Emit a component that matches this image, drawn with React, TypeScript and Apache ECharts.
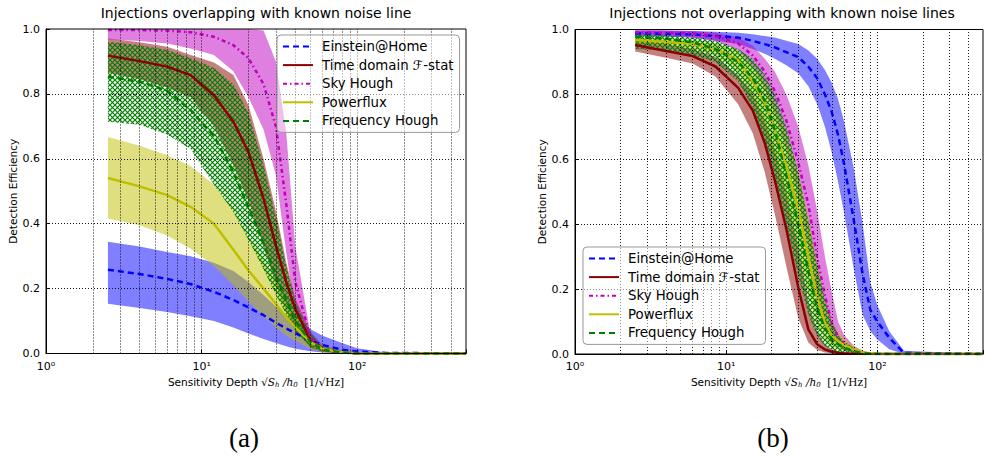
import React, { useEffect, useRef } from 'react';
import * as echarts from 'echarts';

// ---------------- Panel (a): injections overlapping with known noise line ----------------
const XL = [2.5, 4, 6, 8.5, 12, 16, 20, 25, 30, 35, 40, 50, 60, 80, 100, 150, 500];

const L_EAH = [0.258, 0.245, 0.23, 0.214, 0.19, 0.165, 0.142, 0.118, 0.095, 0.077, 0.063, 0.04, 0.026, 0.012, 0.006, 0.002, 0];
const L_EAH_HI = [0.344, 0.33, 0.313, 0.3, 0.28, 0.254, 0.22, 0.18, 0.145, 0.12, 0.1, 0.075, 0.055, 0.032, 0.016, 0.004, 0];
const L_EAH_LO = [0.153, 0.14, 0.128, 0.115, 0.1, 0.08, 0.062, 0.045, 0.032, 0.022, 0.015, 0.007, 0.003, 0.001, 0, 0, 0];

const L_TD = [0.918, 0.901, 0.884, 0.858, 0.796, 0.714, 0.621, 0.477, 0.333, 0.22, 0.137, 0.04, 0.014, 0.004, 0.001, 0, 0];
const L_TD_HI = [0.971, 0.959, 0.945, 0.92, 0.897, 0.858, 0.765, 0.6, 0.44, 0.28, 0.17, 0.066, 0.025, 0.008, 0.003, 0, 0];
const L_TD_LO = [0.865, 0.845, 0.82, 0.79, 0.7, 0.58, 0.47, 0.33, 0.21, 0.13, 0.075, 0.018, 0.005, 0.001, 0, 0, 0];

const L_SH = [0.997, 0.997, 0.995, 0.99, 0.976, 0.95, 0.91, 0.83, 0.7, 0.46, 0.22, 0.05, 0.012, 0.003, 0, 0, 0];
const L_SH_HI = [1.0, 1.0, 1.0, 1.0, 1.0, 1.0, 1.0, 0.995, 0.9, 0.68, 0.33, 0.06, 0.02, 0.005, 0.001, 0, 0];
const L_SH_LO = [0.968, 0.963, 0.955, 0.94, 0.92, 0.87, 0.79, 0.69, 0.55, 0.31, 0.13, 0.03, 0.008, 0.002, 0, 0, 0];

const L_PF = [0.541, 0.515, 0.488, 0.452, 0.4, 0.32, 0.256, 0.2, 0.153, 0.112, 0.081, 0.035, 0.014, 0.004, 0.001, 0, 0];
const L_PF_HI = [0.667, 0.64, 0.611, 0.578, 0.52, 0.445, 0.36, 0.29, 0.22, 0.16, 0.115, 0.055, 0.025, 0.006, 0.002, 0, 0];
const L_PF_LO = [0.416, 0.395, 0.364, 0.323, 0.27, 0.21, 0.16, 0.115, 0.08, 0.055, 0.038, 0.015, 0.005, 0.001, 0, 0, 0];

const L_FH = [0.853, 0.838, 0.81, 0.75, 0.67, 0.56, 0.45, 0.34, 0.24, 0.165, 0.1, 0.035, 0.012, 0.003, 0, 0, 0];
const L_FH_HI = [0.961, 0.95, 0.935, 0.91, 0.88, 0.83, 0.74, 0.58, 0.42, 0.27, 0.16, 0.06, 0.02, 0.006, 0.002, 0, 0];
const L_FH_LO = [0.714, 0.705, 0.675, 0.63, 0.52, 0.436, 0.35, 0.26, 0.18, 0.12, 0.07, 0.02, 0.006, 0.001, 0, 0, 0];

// ---------------- Panel (b): injections not overlapping with known noise lines ----------------
const XR = [2.5, 4, 6, 8.5, 12, 15, 18, 21, 25, 30, 35, 40, 45, 50, 55, 60, 70, 80, 90, 100, 120, 150, 500];

const R_EAH = [0.988, 0.987, 0.985, 0.98, 0.975, 0.965, 0.955, 0.945, 0.93, 0.915, 0.885, 0.85, 0.8, 0.745, 0.675, 0.59, 0.41, 0.245, 0.135, 0.1, 0.05, 0.003, 0];
const R_EAH_HI = [0.996, 0.996, 0.995, 0.993, 0.99, 0.985, 0.98, 0.975, 0.965, 0.955, 0.935, 0.91, 0.875, 0.835, 0.785, 0.72, 0.57, 0.4, 0.22, 0.15, 0.07, 0.01, 0];
const R_EAH_LO = [0.98, 0.978, 0.975, 0.965, 0.955, 0.94, 0.925, 0.91, 0.89, 0.865, 0.825, 0.77, 0.7, 0.62, 0.53, 0.44, 0.26, 0.12, 0.07, 0.045, 0.015, 0, 0];

const R_TD = [0.952, 0.934, 0.918, 0.886, 0.82, 0.75, 0.65, 0.535, 0.385, 0.205, 0.075, 0.03, 0.014, 0.007, 0.004, 0.002, 0.001, 0, 0, 0, 0, 0, 0];
const R_TD_HI = [0.97, 0.955, 0.94, 0.915, 0.86, 0.8, 0.72, 0.63, 0.5, 0.33, 0.16, 0.07, 0.03, 0.015, 0.008, 0.005, 0.002, 0, 0, 0, 0, 0, 0];
const R_TD_LO = [0.932, 0.913, 0.895, 0.855, 0.77, 0.68, 0.56, 0.43, 0.27, 0.11, 0.035, 0.012, 0.005, 0.002, 0.001, 0, 0, 0, 0, 0, 0, 0, 0];

const R_SH = [0.991, 0.99, 0.988, 0.98, 0.957, 0.92, 0.87, 0.81, 0.72, 0.59, 0.46, 0.296, 0.18, 0.095, 0.052, 0.03, 0.012, 0.004, 0.001, 0, 0, 0, 0];
const R_SH_HI = [1.0, 0.998, 0.995, 0.99, 0.975, 0.95, 0.91, 0.87, 0.8, 0.7, 0.58, 0.44, 0.3, 0.19, 0.1, 0.06, 0.025, 0.01, 0.003, 0.001, 0, 0, 0];
const R_SH_LO = [0.982, 0.98, 0.975, 0.965, 0.935, 0.885, 0.82, 0.74, 0.63, 0.48, 0.33, 0.18, 0.1, 0.05, 0.025, 0.012, 0.004, 0.001, 0, 0, 0, 0, 0];

const R_PF = [0.968, 0.962, 0.955, 0.94, 0.905, 0.84, 0.775, 0.69, 0.58, 0.445, 0.3, 0.175, 0.095, 0.055, 0.04, 0.028, 0.013, 0.005, 0.002, 0.001, 0, 0, 0];
const R_PF_HI = [0.975, 0.972, 0.968, 0.958, 0.935, 0.89, 0.84, 0.77, 0.68, 0.56, 0.42, 0.28, 0.17, 0.1, 0.07, 0.05, 0.025, 0.01, 0.004, 0.002, 0, 0, 0];
const R_PF_LO = [0.958, 0.95, 0.94, 0.92, 0.87, 0.79, 0.7, 0.6, 0.47, 0.32, 0.18, 0.09, 0.045, 0.025, 0.015, 0.01, 0.004, 0.001, 0, 0, 0, 0, 0];

const R_FH = [0.978, 0.972, 0.96, 0.94, 0.9, 0.85, 0.78, 0.69, 0.55, 0.4, 0.255, 0.14, 0.08, 0.045, 0.03, 0.02, 0.008, 0.003, 0.001, 0, 0, 0, 0];
const R_FH_HI = [0.985, 0.982, 0.975, 0.965, 0.94, 0.91, 0.86, 0.8, 0.7, 0.56, 0.41, 0.27, 0.17, 0.1, 0.06, 0.04, 0.018, 0.007, 0.002, 0.001, 0, 0, 0];
const R_FH_LO = [0.94, 0.935, 0.92, 0.9, 0.84, 0.76, 0.66, 0.55, 0.4, 0.24, 0.12, 0.055, 0.025, 0.012, 0.006, 0.003, 0.001, 0, 0, 0, 0, 0, 0];

// ---------------- labels / ticks ----------------
const NAMES = ['Einstein@Home', 'Time domain ℱ-stat', 'Sky Hough', 'Powerflux', 'Frequency Hough'];
const TITLES = ['Injections overlapping with known noise line', 'Injections not overlapping with known noise lines'];
const PANEL_LABELS = ['(a)', '(b)'];
const Y_GRID = [0.2, 0.4, 0.6, 0.8];
const X_GRID = [2, 3, 4, 5, 6, 7, 8, 9, 10, 20, 30, 40, 50, 60, 70, 80, 90, 100, 200, 300, 400];
const SUP = ['⁰', '¹', '²', '³'];

const C = {
  eah: '#0000ff',
  td: '#8b0000',
  sh: '#bf00bf',
  pf: '#bfbf00',
  fh: '#008000',
};

function pairs(xs: number[], ys: number[]) {
  return xs.map((x, i) => [x, ys[i]]);
}

function makeHatch() {
  const s = 5;
  const c = document.createElement('canvas');
  c.width = s;
  c.height = s;
  const ctx = c.getContext('2d')!;
  ctx.strokeStyle = 'rgba(0,128,0,1)';
  ctx.lineWidth = 1.2;
  ctx.beginPath();
  ctx.moveTo(-1, -1);
  ctx.lineTo(s + 1, s + 1);
  ctx.moveTo(-1, s + 1);
  ctx.lineTo(s + 1, -1);
  ctx.stroke();
  return c;
}

function band(idx: number, xs: number[], hi: number[], lo: number[], fill: any) {
  return {
    type: 'custom',
    xAxisIndex: idx,
    yAxisIndex: idx,
    silent: true,
    z: 2,
    data: xs.map((x, i) => [x, hi[i], lo[i]]),
    encode: { x: 0, y: [1, 2] },
    renderItem: (params: any, api: any) => {
      if (params.dataIndex !== 0) return null;
      const pts: number[][] = [];
      for (let i = 0; i < xs.length; i++) pts.push(api.coord([xs[i], hi[i]]));
      for (let i = xs.length - 1; i >= 0; i--) pts.push(api.coord([xs[i], lo[i]]));
      return { type: 'polygon', shape: { points: pts }, style: { fill, stroke: null } };
    },
  };
}

function line(idx: number, name: string, xs: number[], ys: number[], color: string, type: any) {
  return {
    type: 'line',
    name,
    xAxisIndex: idx,
    yAxisIndex: idx,
    data: pairs(xs, ys),
    symbol: 'none',
    showSymbol: false,
    silent: true,
    z: 4,
    lineStyle: { color, width: 2.5, type, cap: 'butt' },
    itemStyle: { color },
  };
}

function gridLines(idx: number) {
  return {
    type: 'line',
    xAxisIndex: idx,
    yAxisIndex: idx,
    data: [],
    silent: true,
    z: 3,
    symbol: 'none',
    markLine: {
      silent: true,
      symbol: ['none', 'none'],
      label: { show: false },
      emphasis: { disabled: true },
      animation: false,
      lineStyle: { color: '#000', width: 1, type: [1, 2], opacity: 0.9 },
      data: [...X_GRID.map((v) => ({ xAxis: v })), ...Y_GRID.map((v) => ({ yAxis: v }))],
    },
  };
}

export default function App() {
  const ref = useRef<HTMLDivElement>(null);
  useEffect(() => {
    if (!ref.current) return;
    const chart = echarts.init(ref.current, undefined, { renderer: 'svg' });
    const hatch = { image: makeHatch(), repeat: 'repeat', imageWidth: 5, imageHeight: 5 };
    const font = 'DejaVu Sans';

    const grids = [
      { left: 46, top: 29, width: 420, height: 324.5 },
      { left: 575, top: 29.5, width: 410, height: 324.5 },
    ];

    const xAxes = [0, 1].map((i) => ({
      type: 'log',
      logBase: 10,
      gridIndex: i,
      min: 1,
      max: 500,
      name: '{t|Sensitivity Depth }{m|√S}{s|h}{m| /h}{s|0}{t|  }{r|[1/√Hz]}',
      nameLocation: 'middle',
      nameGap: 21,
      nameTextStyle: {
        color: '#000',
        fontFamily: font,
        fontSize: 10.5,
        rich: {
          t: { fontFamily: font, fontSize: 10.5, color: '#000' },
          m: { fontFamily: 'DejaVu Serif', fontStyle: 'italic', fontSize: 10.5, color: '#000' },
          s: { fontFamily: 'DejaVu Serif', fontStyle: 'italic', fontSize: 7, color: '#000', padding: [6, 0, 0, 0] },
          r: { fontFamily: 'DejaVu Serif', fontSize: 10.5, color: '#000' },
        },
      },
      axisLine: { show: true, lineStyle: { color: '#000', width: 1 } },
      axisTick: { show: true, inside: true, length: 4, lineStyle: { color: '#000' } },
      splitLine: { show: false },
      axisLabel: {
        color: '#000',
        fontFamily: font,
        fontSize: 11,
        margin: 7,
        formatter: (v: number) => {
          const e = Math.log10(v);
          if (Math.abs(e - Math.round(e)) > 1e-6) return '';
          return '10' + SUP[Math.round(e)];
        },
      },
    }));

    const yAxes = [0, 1].map((i) => ({
      type: 'value',
      gridIndex: i,
      min: 0,
      max: 1,
      interval: 0.2,
      name: 'Detection Efficiency',
      nameLocation: 'middle',
      nameGap: 27,
      nameTextStyle: { color: '#000', fontFamily: font, fontSize: 10.5 },
      axisLine: { show: true, lineStyle: { color: '#000', width: 1 } },
      axisTick: { show: true, inside: true, length: 4, lineStyle: { color: '#000' } },
      splitLine: { show: false },
      axisLabel: {
        color: '#000',
        fontFamily: font,
        fontSize: 11,
        margin: 6,
        formatter: (v: number) => v.toFixed(1),
      },
    }));

    const legendCommon = {
      data: NAMES,
      orient: 'vertical',
      itemWidth: 30,
      itemHeight: 14,
      itemGap: 5.6,
      padding: [5, 6, 5, 5],
      backgroundColor: 'rgba(255,255,255,0.5)',
      borderColor: '#999',
      borderWidth: 1,
      borderRadius: 4,
      selectedMode: false,
      itemStyle: { opacity: 0 },
      textStyle: { color: '#000', fontFamily: font, fontSize: 13.3, padding: [0, 0, 0, 4] },
      z: 6,
    };

    const series: any[] = [
      band(0, XL, L_EAH_HI, L_EAH_LO, 'rgba(0,0,255,0.5)'),
      band(0, XL, L_TD_HI, L_TD_LO, 'rgba(139,0,0,0.5)'),
      band(0, XL, L_SH_HI, L_SH_LO, 'rgba(191,0,191,0.5)'),
      band(0, XL, L_PF_HI, L_PF_LO, 'rgba(191,191,0,0.5)'),
      band(0, XL, L_FH_HI, L_FH_LO, hatch),
      gridLines(0),
      line(0, NAMES[0], XL, L_EAH, C.eah, [6, 4]),
      line(0, NAMES[1], XL, L_TD, C.td, 'solid'),
      line(0, NAMES[2], XL, L_SH, C.sh, [4, 3, 1.5, 3]),
      line(0, NAMES[3], XL, L_PF, C.pf, 'solid'),
      line(0, NAMES[4], XL, L_FH, C.fh, [6, 4]),

      band(1, XR, R_EAH_HI, R_EAH_LO, 'rgba(0,0,255,0.5)'),
      band(1, XR, R_TD_HI, R_TD_LO, 'rgba(139,0,0,0.5)'),
      band(1, XR, R_SH_HI, R_SH_LO, 'rgba(191,0,191,0.5)'),
      band(1, XR, R_PF_HI, R_PF_LO, 'rgba(191,191,0,0.5)'),
      band(1, XR, R_FH_HI, R_FH_LO, hatch),
      gridLines(1),
      line(1, NAMES[0], XR, R_EAH, C.eah, [6, 4]),
      line(1, NAMES[1], XR, R_TD, C.td, 'solid'),
      line(1, NAMES[2], XR, R_SH, C.sh, [4, 3, 1.5, 3]),
      line(1, NAMES[3], XR, R_PF, C.pf, 'solid'),
      line(1, NAMES[4], XR, R_FH, C.fh, [6, 4]),
    ];

    chart.setOption({
      animation: false,
      backgroundColor: '#fff',
      grid: grids.map((g) => ({ ...g, show: true, borderColor: '#000', borderWidth: 1, backgroundColor: 'transparent', z: 10 })),
      xAxis: xAxes,
      yAxis: yAxes,
      legend: [
        { ...legendCommon, left: 277, top: 35 },
        { ...legendCommon, left: 583, top: 247 },
      ],
      graphic: [
        { type: 'text', x: 256, y: 13, style: { text: TITLES[0], font: `14px "${font}"`, fill: '#000', textAlign: 'center', textVerticalAlign: 'middle' } },
        { type: 'text', x: 782, y: 13, style: { text: TITLES[1], font: `14px "${font}"`, fill: '#000', textAlign: 'center', textVerticalAlign: 'middle' } },
        { type: 'text', x: 244, y: 438, style: { text: PANEL_LABELS[0], font: '27px "Liberation Serif"', fill: '#000', textAlign: 'center', textVerticalAlign: 'middle' } },
        { type: 'text', x: 773, y: 438, style: { text: PANEL_LABELS[1], font: '27px "Liberation Serif"', fill: '#000', textAlign: 'center', textVerticalAlign: 'middle' } },
      ],
      series,
    });
    return () => chart.dispose();
  }, []);
  return <div ref={ref} style={{ position: 'fixed', left: 0, top: 0, width: 986, height: 458, background: '#fff' }} />;
}
